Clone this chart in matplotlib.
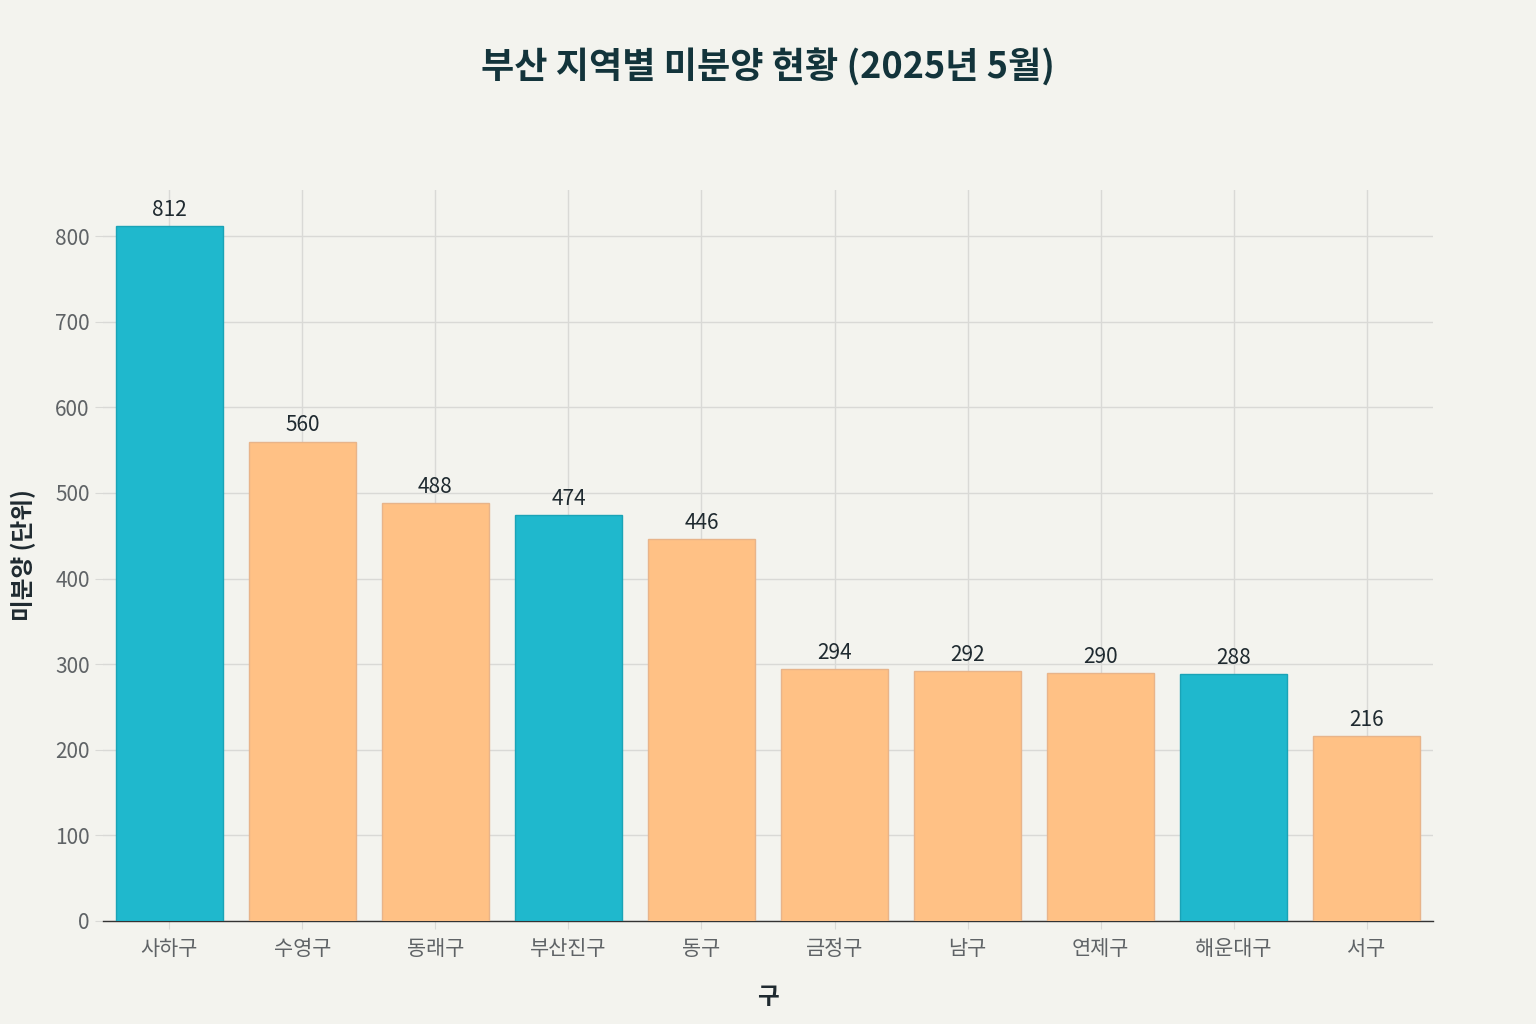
import matplotlib.pyplot as plt

plt.rcParams['font.family'] = ['Noto Sans CJK KR', 'DejaVu Sans']

districts = ['사하구', '수영구', '동래구', '부산진구', '동구', '금정구', '남구', '연제구', '해운대구', '서구']
unsold = [812, 560, 488, 474, 446, 294, 292, 290, 288, 216]
highlight = [True, False, False, True, False, False, False, False, True, False]

bg = '#f3f3ee'
teal = '#1fb8cd'
orange = '#ffc185'
colors = [teal if h else orange for h in highlight]
edges = ['#1aa3b6' if h else '#e8b48a' for h in highlight]

fig = plt.figure(figsize=(15.36, 10.24), dpi=100, facecolor=bg)
ax = fig.add_axes([0.067, 0.1006, 0.866, 0.714])
ax.set_facecolor(bg)

x = range(len(districts))
ax.bar(x, unsold, width=0.8, color=colors, edgecolor=edges, linewidth=1, zorder=3)
for i, v in zip(x, unsold):
    ax.text(i, v + 6, str(v), ha='center', va='bottom', fontsize=15, color='#1f2a30', zorder=4)

ax.set_xlim(-0.5, len(districts) - 0.5)
ax.set_ylim(0, 854)
ax.set_xticks(list(x))
ax.set_xticklabels(districts)
ax.set_yticks(range(0, 801, 100))
ax.grid(True, color='#d9d9d6', linewidth=1, zorder=0)
ax.tick_params(axis='both', colors='#d9d9d6', labelcolor='#5f6366', labelsize=15, length=6)
ax.tick_params(axis='x', pad=6)

for s in ['top', 'right', 'left']:
    ax.spines[s].set_visible(False)
ax.spines['bottom'].set_color('#333333')
ax.spines['bottom'].set_linewidth(1)

ax.set_xlabel('구', fontsize=17, fontweight='bold', color='#1f2a30', labelpad=18)
ax.set_ylabel('미분양 (단위)', fontsize=17, fontweight='bold', color='#1f2a30', labelpad=14)

fig.suptitle('부산 지역별 미분양 현황 (2025년 5월)', y=0.953, fontsize=26,
             fontweight='bold', color='#13343b')

fig.savefig('out.png', dpi=100, facecolor=bg)
